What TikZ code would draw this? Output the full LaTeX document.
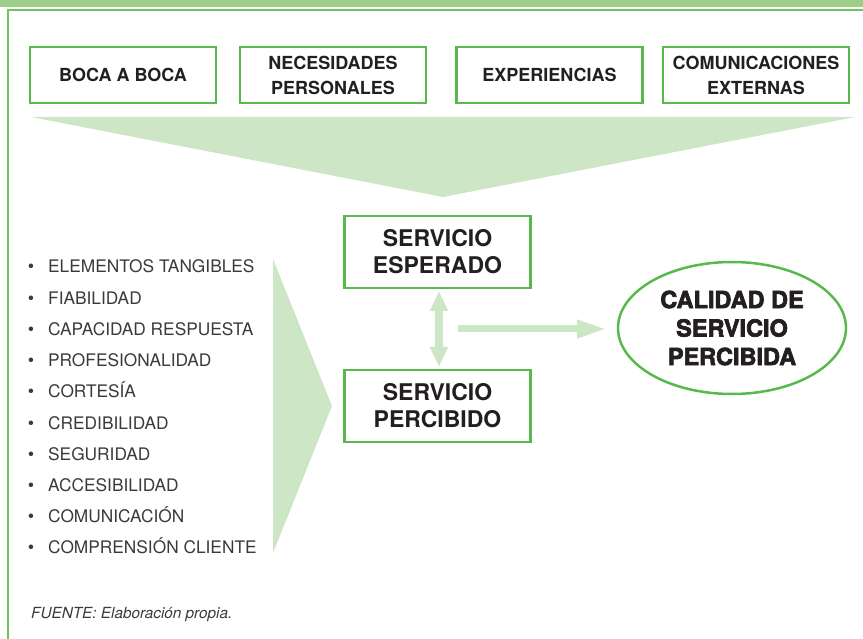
\documentclass[tikz,border=0pt]{standalone}
\usepackage{fontspec}
\setmainfont{TeX Gyre Heros}
\newfontfamily\heavyfont{TeX Gyre Heros}[BoldFeatures={FakeBold=3}]
\usetikzlibrary{arrows.meta,shapes.geometric}
\definecolor{bandgreen}{HTML}{9DCF8A}
\definecolor{linegreen}{HTML}{6FC462}
\definecolor{boxgreen}{HTML}{58B94C}
\definecolor{pale}{HTML}{CDE6C6}
\definecolor{listgrey}{HTML}{3A3A3A}
\definecolor{labelblack}{HTML}{231F20}
\begin{document}
\begin{tikzpicture}[x=1pt,y=-1pt,
  topbox/.style={draw=boxgreen,line width=2.5pt,minimum width=186pt,minimum height=56pt,
    inner sep=0pt,align=center,text=labelblack,font=\bfseries\fontsize{18}{25}\selectfont},
  midbox/.style={draw=boxgreen,line width=2.5pt,minimum width=186pt,minimum height=72pt,
    inner sep=0pt,align=center,text=labelblack,font=\bfseries\fontsize{23}{27}\selectfont},
  resultell/.style={ellipse,draw=boxgreen,line width=2.5pt,minimum width=228pt,minimum height=132pt,
    inner sep=0pt,align=center,text=labelblack,font=\heavyfont\bfseries\fontsize{23.5}{28.5}\selectfont},
  listitem/.style={anchor=base west,inner sep=0pt,text=listgrey,font=\fontsize{17.3}{20}\selectfont},
  bulletmark/.style={anchor=base,inner sep=0pt,text=listgrey,font=\fontsize{18}{20}\selectfont},
  sourcenote/.style={anchor=base west,inner sep=0pt,text=listgrey,font=\itshape\fontsize{15.3}{18}\selectfont},
  palearrow/.style={draw=pale,line width=7pt},
  bigtip/.style={-{Triangle[length=30pt,width=17pt]}},
  dbltip/.style={{Triangle[length=20pt,width=17pt]}-{Triangle[length=20pt,width=17pt]}}
]
\useasboundingbox (0,0) rectangle (863,639);
% frame
\fill[bandgreen] (0,0) rectangle (863,7);
\draw[linegreen,line width=1.8pt] (8,10) -- (863,10);
\draw[linegreen,line width=1.7pt] (8,9.1) -- (8,639);
% funnels
\fill[pale] (31,117) -- (855,117) -- (443,197) -- cycle;
\fill[pale] (273,259) -- (332,406) -- (273,553) -- cycle;
% top boxes
\node[topbox] (boca) at (123,75) {BOCA A BOCA};
\node[topbox] (neces) at (333,75) {NECESIDADES\\PERSONALES};
\node[topbox] (exper) at (549.5,75) {EXPERIENCIAS};
\node[topbox] (comun) at (756,75) {COMUNICACIONES\\EXTERNAS};
% middle boxes
\node[midbox] (esp) at (437.5,252) {SERVICIO\\ESPERADO};
\node[midbox] (perc) at (437.5,406) {SERVICIO\\PERCIBIDO};
% result
\node[resultell] (ell) at (732,328) {CALIDAD DE\\SERVICIO\\PERCIBIDA};
% arrows
\coordinate (va) at (439,291);
\coordinate (vb) at (439,367);
\draw[palearrow,line width=8pt,dbltip] (va) -- (vb);
\coordinate (hs) at (458,329);
\draw[palearrow,bigtip] (hs) -- ([xshift=-10pt]ell.west |- hs);
% list
\foreach \t [count=\i] in {ELEMENTOS TANGIBLES,FIABILIDAD,CAPACIDAD RESPUESTA,PROFESIONALIDAD,CORTESÍA,CREDIBILIDAD,SEGURIDAD,ACCESIBILIDAD,COMUNICACIÓN,COMPRENSIÓN CLIENTE}{
  \node[bulletmark] (b\i) at (31,{273+31.2*(\i-1)}) {•};
  \node[listitem] (it\i) at (48,{273+31.2*(\i-1)}) {\t};
}
\node[sourcenote] (fuente) at (31,618) {FUENTE: Elaboración propia.};
\end{tikzpicture}
\end{document}
